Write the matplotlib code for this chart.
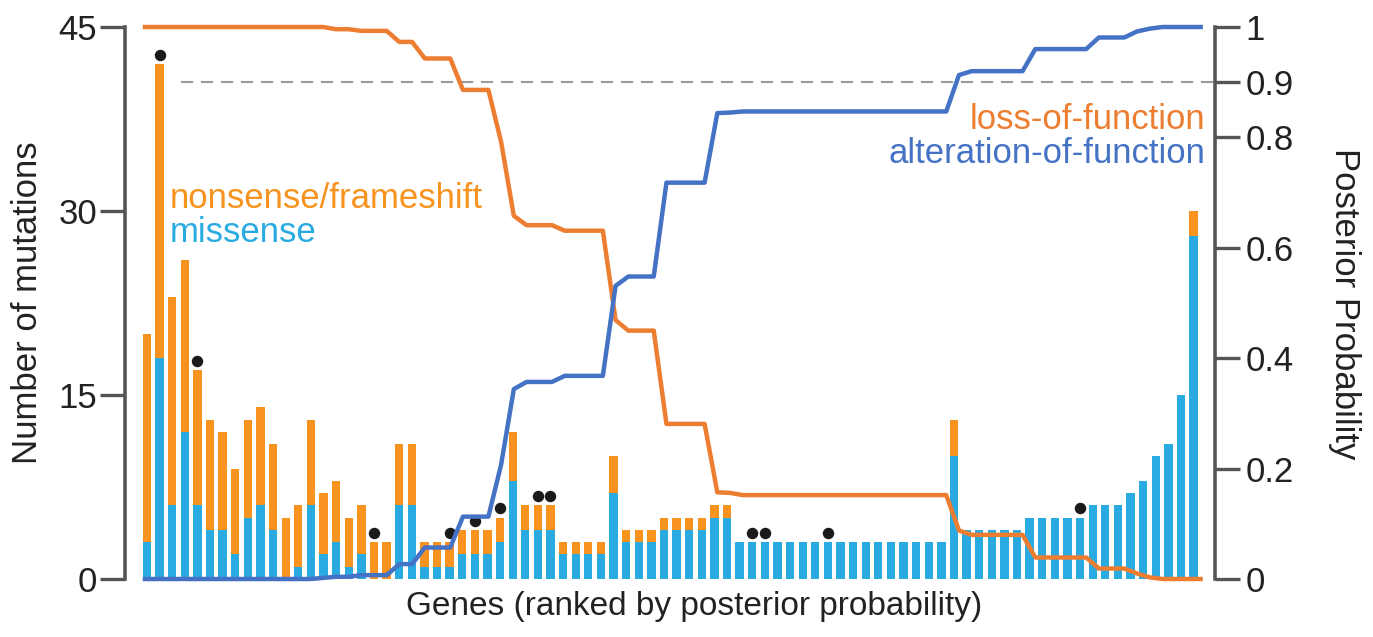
import numpy as np
import matplotlib.pyplot as plt

plt.rcParams['font.family'] = ['Liberation Sans', 'DejaVu Sans']

# mutations per gene, genes ranked by posterior probability
missense = [3, 18, 6, 12, 6, 4, 4, 2, 5, 6, 4, 0, 1, 6, 2, 3, 1, 2, 0, 0,
            6, 6, 1, 1, 1, 2, 2, 2, 3, 8, 4, 4, 4, 2, 2, 2, 2, 7, 3, 3,
            3, 4, 4, 4, 4, 5, 5, 3, 3, 3, 3, 3, 3, 3, 3, 3, 3, 3, 3, 3,
            3, 3, 3, 3, 10, 4, 4, 4, 4, 4, 5, 5, 5, 5, 5, 6, 6, 6, 7, 8,
            10, 11, 15, 28]
nonsense = [17, 24, 17, 14, 11, 9, 8, 7, 8, 8, 7, 5, 5, 7, 5, 5, 4, 4, 3, 3,
            5, 5, 2, 2, 2, 2, 2, 2, 2, 4, 2, 2, 2, 1, 1, 1, 1, 3, 1, 1,
            1, 1, 1, 1, 1, 1, 1, 0, 0, 0, 0, 0, 0, 0, 0, 0, 0, 0, 0, 0,
            0, 0, 0, 0, 3, 0, 0, 0, 0, 0, 0, 0, 0, 0, 0, 0, 0, 0, 0, 0,
            0, 0, 0, 2]
# ranks (1-based) marked with a black dot
flagged = [2, 5, 19, 25, 27, 29, 32, 33, 49, 50, 55, 75]

# posterior probabilities per gene
loss_of_function = [1.0] * 15 + [0.996] * 2 + [0.993] * 3 + [0.973] * 2 + \
    [0.943] * 3 + [0.886] * 3 + [0.792, 0.658] + [0.641] * 3 + [0.631] * 4 + \
    [0.469] + [0.45] * 3 + [0.281] * 4 + [0.157, 0.156] + [0.152] * 17 + \
    [0.088] + [0.08] * 5 + [0.039] * 5 + [0.019] * 3 + [0.01, 0.003] + [0.0] * 4
alteration_of_function = [0.0] * 14 + [0.002] + [0.004] * 2 + [0.007] * 3 + \
    [0.027] * 2 + [0.057] * 3 + [0.113] * 3 + [0.207, 0.344] + [0.357] * 3 + \
    [0.368] * 4 + [0.531] + [0.548] * 3 + [0.718] * 4 + [0.844, 0.845] + \
    [0.847] * 17 + [0.913] + [0.92] * 5 + [0.96] * 5 + [0.981] * 3 + \
    [0.992, 0.997] + [1.0] * 4

BAR_ORANGE = "#F7931E"
BAR_BLUE = "#29ABE2"
LINE_ORANGE = "#ED7D31"
LINE_BLUE = "#4472C4"
AXIS_GRAY = "#555555"
W, H = 1373, 637

fig = plt.figure(figsize=(W / 100, H / 100), dpi=100)
ax = fig.add_axes([125 / W, 58 / H, 1090 / W, 552 / H])

ranks = np.arange(len(missense))
totals = np.array(missense) + np.array(nonsense)
ax.bar(ranks, missense, width=0.66, color=BAR_BLUE)
ax.bar(ranks, nonsense, bottom=missense, width=0.66, color=BAR_ORANGE)
idx = np.array(flagged) - 1
ax.scatter(idx, totals[idx] + 0.75, s=68, color="#1a1a1a", zorder=5,
           clip_on=False, linewidths=0)

ax.set_xlim(-1.745, 84.70)
ax.set_ylim(0, 45)
ax.set_xticks([])
ax.set_yticks([0, 15, 30, 45])
for s in ["top", "right", "bottom"]:
    ax.spines[s].set_visible(False)
ax.spines["left"].set_bounds(0, 45)
ax.spines["left"].set_linewidth(2.6)
ax.spines["left"].set_color(AXIS_GRAY)
ax.tick_params(axis="y", length=18, width=2.4, color=AXIS_GRAY,
               labelsize=25, pad=2, labelcolor="#222222")

ax2 = ax.twinx()
ax2.set_ylim(0, 1)
for s in ["top", "left", "bottom"]:
    ax2.spines[s].set_visible(False)
ax2.spines["right"].set_bounds(0, 1)
ax2.spines["right"].set_linewidth(2.6)
ax2.spines["right"].set_color(AXIS_GRAY)
ax2.set_yticks([0, 0.2, 0.4, 0.6, 0.8, 0.9, 1])
ax2.set_yticklabels(["0", "0.2", "0.4", "0.6", "0.8", "0.9", "1"])
ax2.tick_params(axis="y", length=18, width=2.4, color=AXIS_GRAY,
                labelsize=25, pad=4, labelcolor="#222222")

line_x = np.linspace(-0.16, 83.56, len(loss_of_function))
ax2.hlines(0.9, 2.7, 84.7, colors="#9a9a9a", linestyles=(0, (5.8, 3.8)), lw=1.5)
ax2.plot(line_x, loss_of_function, color=LINE_ORANGE, lw=3.2, clip_on=False)
ax2.plot(line_x, alteration_of_function, color=LINE_BLUE, lw=3.2, clip_on=False)


def px_text(x, y, s, **kw):
    fig.text(x / W, 1 - y / H, s, **kw)


px_text(28, 303, "Number of mutations", rotation=90, ha="center", va="center",
        fontsize=25, color="#222222")
px_text(1345, 304, "Posterior Probability", rotation=270, ha="center",
        va="center", fontsize=25, color="#222222")
px_text(694, 607, "Genes (ranked by posterior probability)", ha="center",
        va="center", fontsize=24, color="#222222")
px_text(170, 208, "nonsense/frameshift", ha="left", va="baseline",
        fontsize=25, color=BAR_ORANGE)
px_text(170, 242, "missense", ha="left", va="baseline", fontsize=25,
        color=BAR_BLUE)
px_text(1205, 129, "loss-of-function", ha="right", va="baseline",
        fontsize=25, color=LINE_ORANGE)
px_text(1205, 163, "alteration-of-function", ha="right", va="baseline",
        fontsize=25, color=LINE_BLUE)

fig.savefig("out.png", dpi=100)
